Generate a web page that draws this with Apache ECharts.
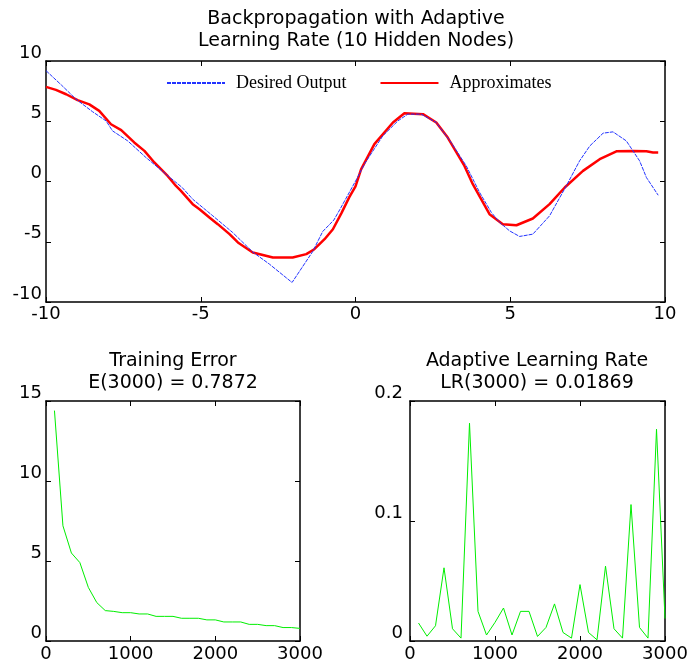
<!DOCTYPE html>
<html><head><meta charset="utf-8">
<script src="https://cdn.jsdelivr.net/npm/echarts@6/dist/echarts.min.js"></script>
<style>html,body{margin:0;padding:0;background:#fff}#c{width:693px;height:666px}</style>
</head><body><div id="c"></div>
<script>
// ---- Top chart data ----
const desiredX = [-10, -9.5, -9.03, -8.5, -8.06, -7.85, -7.36, -6.77, -6.12, -5.6, -5.26, -4.61, -3.97, -3.32, -2.78, -2.05, -1.38, -1.06, -0.7, -0.5, 0.02, 0.3, 0.88, 1.37, 1.69, 2.12, 2.61, 3.09, 3.58, 4.01, 4.39, 4.66, 4.98, 5.3, 5.73, 6.27, 6.81, 7.24, 7.57, 8.0, 8.32, 8.75, 9.18, 9.4, 9.78];
const desiredY = [9.2, 8.0, 6.83, 5.8, 5.03, 4.2, 3.37, 1.99, 0.6, -0.5, -1.47, -2.85, -4.23, -5.85, -6.86, -8.38, -5.8, -4.15, -3.2, -2.3, 0.12, 1.5, 3.78, 5.03, 5.59, 5.59, 4.9, 3.24, 1.29, -0.91, -2.57, -3.4, -4.1, -4.56, -4.37, -2.85, -0.37, 1.71, 2.95, 4.01, 4.12, 3.37, 1.71, 0.33, -1.14];
const approxX = [-10, -9.68, -9.35, -8.98, -8.6, -8.28, -7.9, -7.57, -7.15, -6.82, -6.5, -6.07, -5.8, -5.64, -5.26, -5.04, -4.72, -4.45, -4.07, -3.8, -3.32, -2.67, -2.03, -1.59, -1.33, -1.0, -0.73, -0.45, -0.2, 0.0, 0.18, 0.61, 1.21, 1.58, 2.18, 2.61, 2.98, 3.52, 3.79, 4.33, 4.76, 5.2, 5.73, 6.27, 6.76, 7.35, 7.89, 8.43, 8.97, 9.4, 9.61, 9.78];
const approxY = [7.85, 7.6, 7.24, 6.75, 6.4, 5.86, 4.75, 4.26, 3.24, 2.54, 1.58, 0.46, -0.37, -0.78, -1.88, -2.3, -2.99, -3.54, -4.37, -5.06, -5.89, -6.31, -6.31, -6.03, -5.62, -4.79, -3.96, -2.6, -1.3, -0.4, 1.0, 3.1, 4.9, 5.67, 5.59, 4.9, 3.65, 1.29, -0.22, -2.71, -3.54, -3.63, -3.07, -1.88, -0.5, 0.88, 1.85, 2.51, 2.54, 2.51, 2.41, 2.41];

// ---- Bottom charts data ----
const iterations = [100, 200, 300, 400, 500, 600, 700, 800, 900, 1000, 1100, 1200, 1300, 1400, 1500, 1600, 1700, 1800, 1900, 2000, 2100, 2200, 2300, 2400, 2500, 2600, 2700, 2800, 2900, 3000];
const trainingError = [14.4, 7.2, 5.5, 4.9, 3.35, 2.4, 1.9, 1.85, 1.77, 1.77, 1.69, 1.69, 1.54, 1.54, 1.54, 1.42, 1.42, 1.42, 1.32, 1.32, 1.19, 1.19, 1.19, 1.04, 1.04, 0.96, 0.96, 0.84, 0.84, 0.7872];
const learningRate = [0.015, 0.004, 0.0127, 0.061, 0.0102, 0.0024, 0.1815, 0.0247, 0.005, 0.0155, 0.0275, 0.005, 0.0247, 0.0247, 0.0038, 0.0113, 0.0309, 0.0071, 0.0024, 0.047, 0.0071, 0.001, 0.0624, 0.0102, 0.0024, 0.1137, 0.0113, 0.0024, 0.1765, 0.01869];

// ---- Text ----
const mainTitle = 'Backpropagation with Adaptive\nLearning Rate (10 Hidden Nodes)';
const errTitle = 'Training Error\nE(3000) = 0.7872';
const lrTitle = 'Adaptive Learning Rate\nLR(3000) = 0.01869';
const legendNames = ['Desired Output', 'Approximates'];

const FONT = 'DejaVu Sans';
const lineS = {color: '#000', width: 1.5};
const tickS = {show: true, inside: true, length: 5, lineStyle: {color: '#000', width: 1}};
const plain = v => String(v);

function xAxes(grid, min, max, interval, margin) {
  return [
    {type: 'value', gridIndex: grid, position: 'bottom', min, max, interval,
     axisLine: {show: true, onZero: false, lineStyle: lineS}, axisTick: tickS, splitLine: {show: false},
     axisLabel: {color: '#000', fontFamily: FONT, fontSize: 18, margin, formatter: plain}},
    {type: 'value', gridIndex: grid, position: 'top', min, max, interval,
     axisLine: {show: true, onZero: false, lineStyle: lineS}, axisTick: tickS, splitLine: {show: false},
     axisLabel: {show: false}}
  ];
}
function yAxes(grid, min, max, interval, margin) {
  return [
    {type: 'value', gridIndex: grid, position: 'left', min, max, interval,
     axisLine: {show: true, onZero: false, lineStyle: lineS}, axisTick: tickS, splitLine: {show: false},
     axisLabel: {color: '#000', fontFamily: FONT, fontSize: 18, margin, verticalAlign: 'bottom', lineHeight: 16, formatter: plain}},
    {type: 'value', gridIndex: grid, position: 'right', min, max, interval,
     axisLine: {show: true, onZero: false, lineStyle: lineS}, axisTick: tickS, splitLine: {show: false},
     axisLabel: {show: false}}
  ];
}

const chart = echarts.init(document.getElementById('c'), null, {renderer: 'canvas'});
const zip = (a, b) => a.map((v, i) => [v, b[i]]);

chart.setOption({
  animation: false,
  backgroundColor: '#fff',
  graphic: [
    {type: 'text', x: 356, y: 8, style: {text: mainTitle, textAlign: 'center', fontFamily: FONT, fontSize: 19, lineHeight: 22, fill: '#000'}},
    {type: 'text', x: 173, y: 350, style: {text: errTitle, textAlign: 'center', fontFamily: FONT, fontSize: 19, lineHeight: 22, fill: '#000'}},
    {type: 'text', x: 537, y: 350, style: {text: lrTitle, textAlign: 'center', fontFamily: FONT, fontSize: 19, lineHeight: 22, fill: '#000'}}
  ],
  legend: {
    data: legendNames, left: 166, top: 74, padding: 0, itemWidth: 58, itemHeight: 14, itemGap: 33,
    itemStyle: {opacity: 0},
    textStyle: {fontFamily: 'Liberation Serif', fontSize: 18, color: '#000', padding: [0, 0, 0, 6]}
  },
  grid: [
    {left: 46, top: 61, width: 619, height: 241},
    {left: 46, top: 401, width: 254, height: 240},
    {left: 410, top: 401, width: 255, height: 240}
  ],
  xAxis: [...xAxes(0, -10, 10, 5, 3), ...xAxes(1, 0, 3000, 1000, 4), ...xAxes(2, 0, 3000, 1000, 4)],
  yAxis: [...yAxes(0, -10, 10, 5, 4), ...yAxes(1, 0, 15, 5, 4), ...yAxes(2, 0, 0.2, 0.1, 7)],
  series: [
    {name: legendNames[0], type: 'line', xAxisIndex: 0, yAxisIndex: 0, symbol: 'none', showSymbol: false,
     data: zip(desiredX, desiredY), lineStyle: {color: '#2233ff', width: 1, type: [4, 1]}, itemStyle: {color: '#2233ff'}, z: 3},
    {name: legendNames[1], type: 'line', xAxisIndex: 0, yAxisIndex: 0, symbol: 'none', showSymbol: false,
     data: zip(approxX, approxY), lineStyle: {color: '#ff0000', width: 2.5}, itemStyle: {color: '#ff0000'}, z: 2},
    {name: 'Training Error', type: 'line', xAxisIndex: 2, yAxisIndex: 2, symbol: 'none', showSymbol: false,
     data: zip(iterations, trainingError), lineStyle: {color: '#00ee00', width: 1}, itemStyle: {color: '#00ee00'}},
    {name: 'Learning Rate', type: 'line', xAxisIndex: 4, yAxisIndex: 4, symbol: 'none', showSymbol: false,
     data: zip(iterations, learningRate), lineStyle: {color: '#00ee00', width: 1}, itemStyle: {color: '#00ee00'}}
  ]
});
</script>
</body></html>
